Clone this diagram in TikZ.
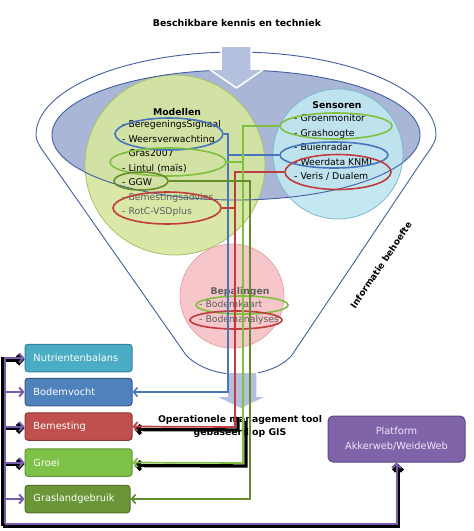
\documentclass[tikz,border=0pt]{standalone}
\usepackage{fontspec}
\setmainfont{DejaVu Sans}
\usetikzlibrary{shapes.geometric,arrows.meta,calc}

\definecolor{funblue}{RGB}{65,95,165}
\definecolor{ellfill}{RGB}{170,182,214}
\definecolor{arrfill}{RGB}{180,192,222}
\definecolor{modfill}{RGB}{214,230,160}
\definecolor{moddraw}{RGB}{165,195,105}
\definecolor{senfill}{RGB}{192,230,241}
\definecolor{sendraw}{RGB}{120,185,205}
\definecolor{bepfill}{RGB}{246,198,202}
\definecolor{bepdraw}{RGB}{230,165,170}
\definecolor{lnblue}{RGB}{72,118,190}
\definecolor{lnred}{RGB}{192,60,62}
\definecolor{lngreen}{RGB}{128,192,64}
\definecolor{lndkgreen}{RGB}{100,140,45}
\definecolor{lnpurple}{RGB}{120,90,175}
\definecolor{greytext}{RGB}{95,95,95}
\definecolor{nutfill}{RGB}{75,172,198}
\definecolor{nutdraw}{RGB}{50,130,155}
\definecolor{bodfill}{RGB}{79,129,189}
\definecolor{boddraw}{RGB}{56,93,138}
\definecolor{bemfill}{RGB}{192,80,77}
\definecolor{bemdraw}{RGB}{140,56,54}
\definecolor{groeifill}{RGB}{125,193,70}
\definecolor{groeidraw}{RGB}{95,150,50}
\definecolor{grasfill}{RGB}{106,150,56}
\definecolor{grasdraw}{RGB}{80,115,40}
\definecolor{platfill}{RGB}{128,100,170}
\definecolor{platdraw}{RGB}{94,70,130}
\definecolor{plattext}{RGB}{238,232,248}

\begin{document}
\begin{tikzpicture}[x=1pt,y=-1pt,
  txt/.style={anchor=west, inner sep=0pt, text height=7pt, text depth=2pt, font=\fontsize{9.3}{11}\selectfont},
  ttl/.style={inner sep=0pt, font=\bfseries\fontsize{9.3}{11}\selectfont},
  ovl/.style={ellipse, draw, line width=1.6pt, inner sep=0pt},
  box/.style={draw, line width=1pt, rounded corners=3pt, minimum height=27.5pt, text width=90pt, inner xsep=8.5pt, align=left, text=white, font=\fontsize{9.8}{11}\selectfont},
  tip/.style={-{Straight Barb[length=4pt,width=9pt]}},
  cblue/.style={draw=lnblue, line width=1.5pt},
  cred/.style={draw=lnred, line width=1.7pt},
  cgreen/.style={draw=lngreen, line width=1.7pt},
  cdgreen/.style={draw=lndkgreen, line width=1.7pt},
  shad/.style={draw=black, line width=3.4pt},
  pline/.style={draw=lnpurple, line width=2pt},
  pshad/.style={draw=black, line width=4.4pt},
  bigarrow/.style={fill=arrfill, draw=white, line width=1.5pt, line join=miter}
]
\useasboundingbox (0,0) rectangle (474,531);

% title
\node[font=\bfseries\fontsize{9.4}{11}\selectfont, inner sep=0pt] (title) at (237,23) {Beschikbare kennis en techniek};

% funnel
\draw[funblue, line width=0.9pt, fill=white] (186,355) -- (48,158) .. controls (40,147) and (36,141) .. (36,135)
  arc[start angle=180, end angle=360, x radius=200, y radius=83]
  .. controls (436,141) and (432,147) .. (424,158) -- (292,355) .. controls (270,381) and (210,381) .. (186,355) -- cycle;
\fill[ellfill] (236,135) ellipse [x radius=184, y radius=65];

% circles
\fill[modfill, fill opacity=0.92] (175,165) circle[radius=90];
\draw[moddraw, line width=0.8pt] (175,165) circle[radius=90];
\fill[senfill, fill opacity=0.92] (338,154) circle[radius=65];
\draw[sendraw, line width=0.8pt] (338,154) circle[radius=65];
\fill[bepfill] (232,296) circle[radius=52];
\draw[bepdraw, line width=0.8pt] (232,296) circle[radius=52];

% ellipse outline on top
\draw[funblue, line width=0.9pt] (236,135) ellipse [x radius=184, y radius=65];
% top arrow
\draw[bigarrow] (221,46) -- (251,46) -- (251,69) -- (264,69) -- (236.5,88) -- (209,69) -- (221,69) -- cycle;

% bottom arrow
\draw[bigarrow] (227,372) -- (257,372) -- (257,396) -- (268,396) -- (241,409) -- (214,396) -- (227,396) -- cycle;

% Modellen
\node[ttl] (modT) at (177,112) {Modellen};
\node[txt] (m1) at (122,125) {- BeregeningsSignaal};
\node[txt] (m2) at (122,139.5) {- Weersverwachting};
\node[txt] (m3) at (122,154) {- Gras2007};
\node[txt] (m4) at (122,168.5) {- Lintul (maïs)};
\node[txt] (m5) at (122,183) {- GGW};
\node[txt, text=greytext] (m6) at (122,197.5) {- Bemestingsadvies};
\node[txt, text=greytext] (m7) at (122,212) {- RotC-VSDplus};
\node[ovl, draw=lnblue, minimum width=108pt, minimum height=32pt] (mblue) at (169,134) {};
\node[ovl, draw=lngreen, minimum width=116pt, minimum height=28pt] (mgreen) at (168,162) {};
\node[ovl, draw=lndkgreen, minimum width=54pt, minimum height=18pt] (mggw) at (141,181) {};
\node[ovl, draw=lnred, minimum width=108pt, minimum height=32pt] (mred) at (167,208) {};

% Sensoren
\node[ttl] (senT) at (337,105) {Sensoren};
\node[txt] (s1) at (294,119) {- Groenmonitor};
\node[txt] (s2) at (294,133.5) {- Grashoogte};
\node[txt] (s3) at (294,148) {- Buienradar};
\node[txt] (s4) at (294,162.5) {- Weerdata KNMI};
\node[txt] (s5) at (294,177) {- Veris / Dualem};
\node[ovl, draw=lngreen, minimum width=112pt, minimum height=26pt] (sgreen) at (336,126) {};
\node[ovl, draw=lnblue, minimum width=108pt, minimum height=26pt] (sblue) at (334,155) {};
\node[ovl, draw=lnred, minimum width=106pt, minimum height=35pt] (sred) at (338,172) {};

% Bepalingen
\node[ttl, text=greytext] (bepT) at (240,292) {Bepalingen};
\node[txt, text=greytext] (b1) at (199,305) {- Bodemkaart};
\node[txt, text=greytext] (b2) at (199,319.5) {- Bodemanalyses};
\node[ovl, draw=lngreen, minimum width=92pt, minimum height=18pt] (bgreen) at (242,305) {};
\node[ovl, draw=lnred, minimum width=92pt, minimum height=18pt] (bred) at (236,320) {};

% tool label
\node[font=\bfseries\fontsize{9.3}{13}\selectfont, align=center, inner sep=0pt] (tool) at (240,426) {Operationele management tool\\gebaseerd op GIS};
\node[font=\bfseries\fontsize{9}{11}\selectfont, rotate=56, inner sep=0pt] (info) at (381,265) {Informatie behoefte};

% boxes
\node[box, fill=nutfill, draw=nutdraw] (nutri) at (78.5,358) {Nutrientenbalans};
\node[box, fill=bodfill, draw=boddraw] (bodem) at (78.5,392) {Bodemvocht};
\node[box, fill=bemfill, draw=bemdraw] (bemes) at (78.5,426.5) {Bemesting};
\node[box, fill=groeifill, draw=groeidraw] (groei) at (78.5,462.5) {Groei};
\node[box, fill=grasfill, draw=grasdraw, text width=88pt] (gras) at (77.5,499) {Graslandgebruik};
\node[draw=platdraw, fill=platfill, line width=1pt, rounded corners=5pt, minimum width=137pt, minimum height=46pt, align=center, text=plattext, font=\fontsize{9.8}{15}\selectfont] (plat) at (396.5,439) {Platform\\Akkerweb/WeideWeb};

% coordinates for connectors
\coordinate (bx) at (228,392);
\coordinate (rx) at (235,427);
\coordinate (gx) at (243,463);
\coordinate (dx) at (250,499);
\coordinate (pc) at (4.5,524);

% shadows
\draw[shad, tip] ($(rx)+(3,-10)$) -- ($(rx)+(3,3)$) -- ($(bemes.east)+(2,3)$);
\draw[shad, tip] ($(gx)+(3,-42)$) -- ($(gx)+(3,3)$) -- ($(groei.east)+(2,3)$);

% connectors
\draw[cblue, tip] (mblue.east) -| (bx) -- (bodem.east);
\draw[cblue] (sblue.west) -- (sblue.west -| bx);
\draw[cred, tip] (sred.west) -| (rx) -- (bemes.east);
\draw[cred] (mred.east) -- (mred.east -| rx);
\draw[cgreen, tip] (sgreen.west) -| (gx) -- (groei.east);
\draw[cgreen] (mgreen.east) -- (mgreen.east -| gx);
\draw[cdgreen, tip] (mggw.east) -| (dx) -- (gras.east);

% purple connectors
\draw[pshad, tip] ($(pc)+(-1.5,1.5)$) -| ($(plat.south)+(1.5,1.5)$);
\draw[pshad, tip] ($(pc)+(-1.5,1.5)$) |- ($(nutri.west)+(0,1.5)$);
\draw[pshad, tip] ($(bemes.west -| pc)+(-1.5,1.5)$) -- ($(bemes.west)+(0,1.5)$);
\draw[pshad, tip] ($(groei.west -| pc)+(-1.5,1.5)$) -- ($(groei.west)+(0,1.5)$);
\draw[pline, tip] (pc) -| (plat.south);
\draw[pline, tip] (pc) |- (nutri.west);
\draw[pline, tip] (bodem.west -| pc) -- (bodem.west);
\draw[pline, tip] (bemes.west -| pc) -- (bemes.west);
\draw[pline, tip] (groei.west -| pc) -- (groei.west);
\draw[pline, tip] (gras.west -| pc) -- (gras.west);
\end{tikzpicture}
\end{document}
